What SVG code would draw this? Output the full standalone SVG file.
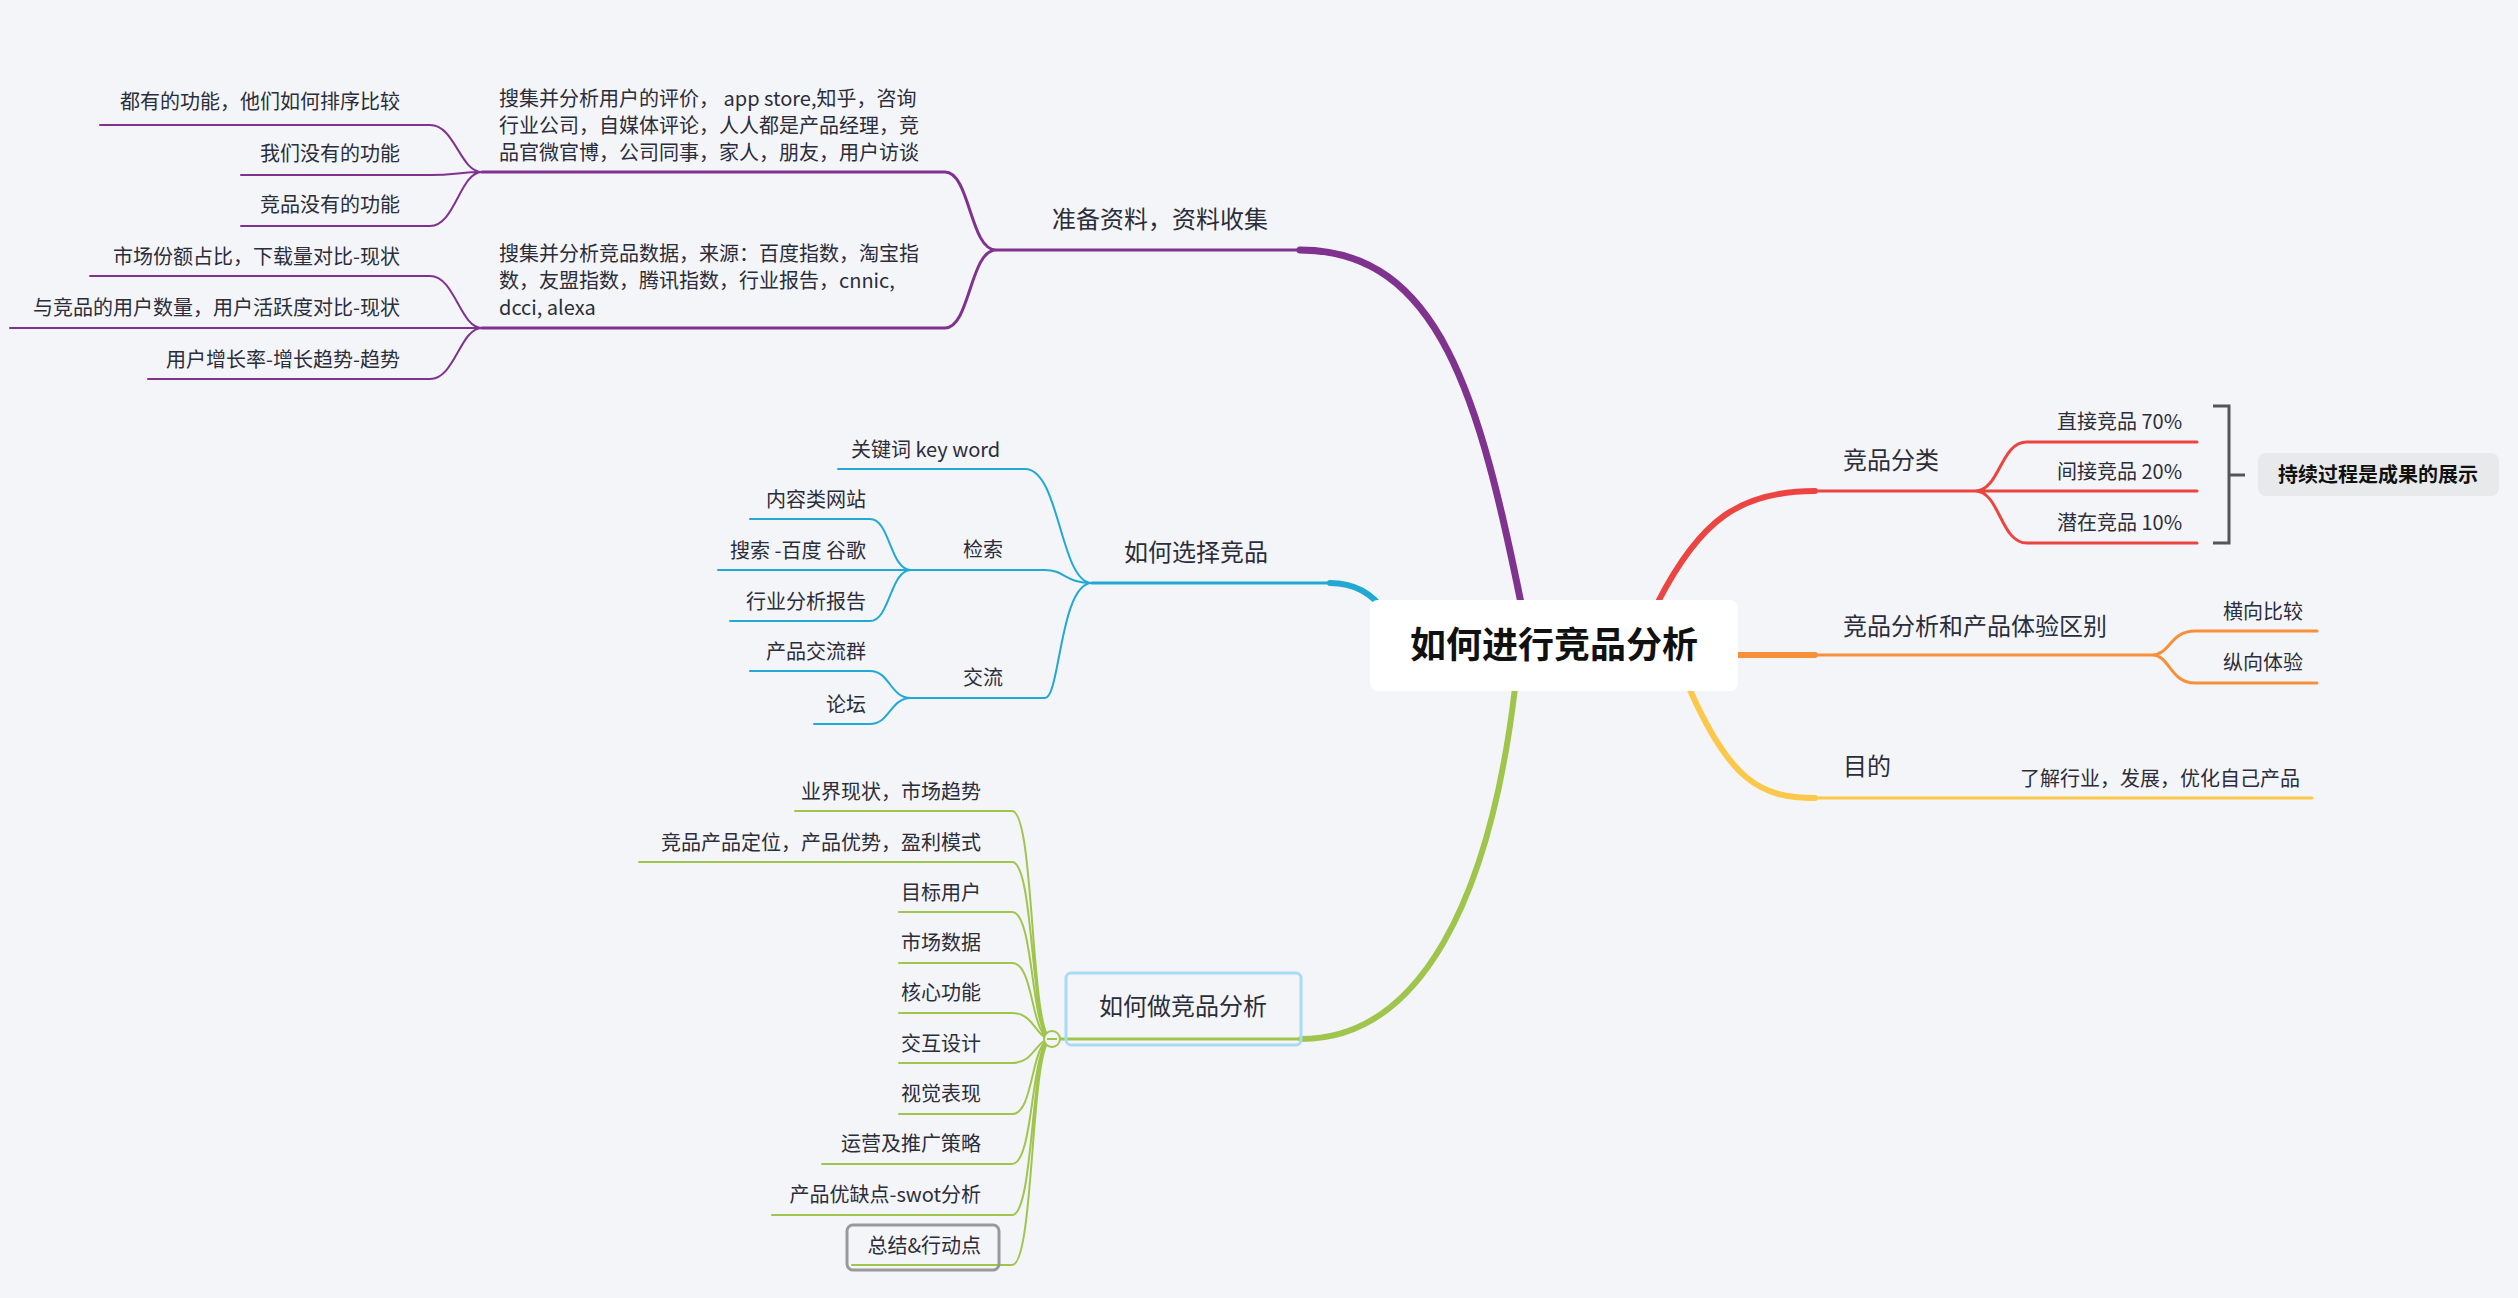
<svg xmlns="http://www.w3.org/2000/svg" width="2518" height="1298" viewBox="0 0 2518 1298">
<style>
text{font-family:"Noto Sans CJK SC","Noto Sans",sans-serif;fill:#2b2d3a;font-size:20px}
.r{text-anchor:end}
.m{font-size:24px}
.c{fill:none;stroke-linecap:round}
.p{stroke:#80328f}.b{stroke:#22a9d3}.g{stroke:#9fc54c}.rd{stroke:#ec4541}.o{stroke:#f6903a}.y{stroke:#fbc84b}
.t1{stroke-width:3}.t2{stroke-width:2}
</style>
<rect width="2518" height="1298" fill="#f4f5f9"/>
<g id="connectors">
<!-- main branches -->
<path class="c p" stroke-width="7" d="M1522,608 C1480,400 1440,250 1300,250"/>
<path class="c b" stroke-width="6" d="M1385,612 C1370,590 1350,583 1330,583"/>
<path class="c g" stroke-width="6" d="M1515,688 C1490,900 1420,1039 1301,1039"/>
<path class="c rd" stroke-width="6" d="M1658,602 C1700,520 1740,491 1815,491"/>
<path class="c o" stroke-width="6" d="M1738,655 L1815,655"/>
<path class="c y" stroke-width="6" d="M1690,690 C1730,780 1760,798 1815,798"/>
<!-- main lines -->
<path class="c p t1" d="M1300,250 L996,250 C970,250 970,172 945,172 L482,172 M996,250 C970,250 970,328 945,328 L482,328"/>
<path class="c p t2" d="M482,172 C460,172 455,125 430,125 L100,125 M482,172 C460,172 455,175 430,175 L241,175 M482,172 C460,172 455,226 430,226 L241,226"/>
<path class="c p t2" d="M482,328 C460,328 455,276 430,276 L90,276 M482,328 L10,328 M482,328 C460,328 455,379 430,379 L148,379"/>
<path class="c b t1" d="M1330,583 L1092,583"/>
<path class="c b t2" d="M1092,583 C1060,583 1060,469 1025,469 L838,469 M1092,583 C1065,583 1065,570 1045,570 L911,570 M1092,583 C1060,583 1060,698 1045,698 L911,698"/>
<path class="c b t2" d="M911,570 C890,570 890,519 870,519 L750,519 M911,570 L718,570 M911,570 C890,570 890,621 870,621 L730,621"/>
<path class="c b t2" d="M911,698 C890,698 890,671 870,671 L750,671 M911,698 C890,698 890,724 870,724 L814,724"/>
<path class="c g t1" d="M1301,1039 L1060,1039"/>
<path class="c g t2" d="M1052,1039 C1030,1039 1035,811 1012,811 L795,811 M1052,1039 C1030,1039 1035,862 1012,862 L639,862 M1052,1039 C1030,1039 1035,912 1012,912 L899,912 M1052,1039 C1030,1039 1035,963 1012,963 L899,963 M1052,1039 C1035,1039 1035,1013 1012,1013 L899,1013 M1052,1039 C1035,1039 1035,1063 1012,1063 L899,1063 M1052,1039 C1030,1039 1035,1114 1012,1114 L899,1114 M1052,1039 C1030,1039 1035,1164 1012,1164 L822,1164 M1052,1039 C1030,1039 1035,1215 1012,1215 L772,1215 M1052,1039 C1030,1039 1035,1265 1012,1265 L852,1265"/>
<path class="c rd t1" d="M1815,491 L1975,491 C2000,491 2000,442 2027,442 L2197,442 M1975,491 L2197,491 M1975,491 C2000,491 2000,543 2027,543 L2197,543"/>
<path class="c o t1" d="M1815,655 L2152,655 C2170,655 2170,631 2195,631 L2317,631 M2152,655 C2170,655 2170,683 2195,683 L2317,683"/>
<path class="c y t1" d="M1815,798 L2312,798"/>
<path fill="none" stroke="#555" stroke-width="3" d="M2213,406 L2229,406 L2229,543 L2213,543 M2229,475 L2245,475"/>
</g>
<g id="center"><rect x="1370" y="600" width="368" height="91" rx="8" fill="#fff"/><text x="1554" y="658" text-anchor="middle" style="font-size:36px;font-weight:bold;fill:#111">如何进行竞品分析</text></g>
<g id="n-prep"><text class="m" x="1052" y="228">准备资料，资料收集</text></g>
<g id="n-p1"><text x="499" y="106">搜集并分析用户的评价， app store,知乎，咨询</text><text x="499" y="133">行业公司，自媒体评论，人人都是产品经理，竞</text><text x="499" y="160">品官微官博，公司同事，家人，朋友，用户访谈</text></g>
<g id="n-p2"><text x="499" y="261">搜集并分析竞品数据，来源：百度指数，淘宝指</text><text x="499" y="288">数，友盟指数，腾讯指数，行业报告，cnnic,</text><text x="499" y="315">dcci, alexa</text></g>
<g id="n-pl"><text class="r" x="400" y="109">都有的功能，他们如何排序比较</text><text class="r" x="400" y="161">我们没有的功能</text><text class="r" x="400" y="212">竞品没有的功能</text><text class="r" x="400" y="264">市场份额占比，下载量对比-现状</text><text class="r" x="400" y="315">与竞品的用户数量，用户活跃度对比-现状</text><text class="r" x="400" y="367">用户增长率-增长趋势-趋势</text></g>
<g id="n-select"><text class="m" x="1124" y="561">如何选择竞品</text><text x="851" y="457">关键词 key word</text><text x="963" y="557">检索</text><text x="963" y="685">交流</text>
<text class="r" x="866" y="507">内容类网站</text><text class="r" x="866" y="558">搜索 -百度 谷歌</text><text class="r" x="866" y="609">行业分析报告</text><text class="r" x="866" y="659">产品交流群</text><text class="r" x="866" y="712">论坛</text></g>
<g id="n-do"><rect x="1066" y="973" width="235" height="72" rx="5" fill="none" stroke="#a6dcf6" stroke-width="3"/><text class="m" x="1183" y="1015" text-anchor="middle">如何做竞品分析</text><circle cx="1052" cy="1039" r="8" fill="#f4f5f9" stroke="#9fc54c" stroke-width="2"/><path d="M1047,1039 H1057" stroke="#9fc54c" stroke-width="2"/></g>
<g id="n-dol"><text class="r" x="981" y="799">业界现状，市场趋势</text><text class="r" x="981" y="850">竞品产品定位，产品优势，盈利模式</text><text class="r" x="981" y="900">目标用户</text><text class="r" x="981" y="950">市场数据</text><text class="r" x="981" y="1000">核心功能</text><text class="r" x="981" y="1051">交互设计</text><text class="r" x="981" y="1101">视觉表现</text><text class="r" x="981" y="1151">运营及推广策略</text><text class="r" x="981" y="1202">产品优缺点-swot分析</text>
<rect x="847" y="1225" width="152" height="45" rx="6" fill="none" stroke="#999" stroke-width="3"/><text class="r" x="981" y="1253">总结&amp;行动点</text></g>
<g id="n-cat"><text class="m" x="1843" y="469">竞品分类</text><text x="2057" y="429">直接竞品 70%</text><text x="2057" y="479">间接竞品 20%</text><text x="2057" y="530">潜在竞品 10%</text></g>
<g id="n-sum"><rect x="2258" y="453" width="241" height="43" rx="8" fill="#e8e9eb"/><text x="2378" y="482" text-anchor="middle" style="font-weight:bold;fill:#111">持续过程是成果的展示</text></g>
<g id="n-diff"><text class="m" x="1843" y="635">竞品分析和产品体验区别</text><text x="2223" y="619">横向比较</text><text x="2223" y="670">纵向体验</text></g>
<g id="n-goal"><text class="m" x="1843" y="775">目的</text><text class="r" x="2300" y="786">了解行业，发展，优化自己产品</text></g>
</svg>
